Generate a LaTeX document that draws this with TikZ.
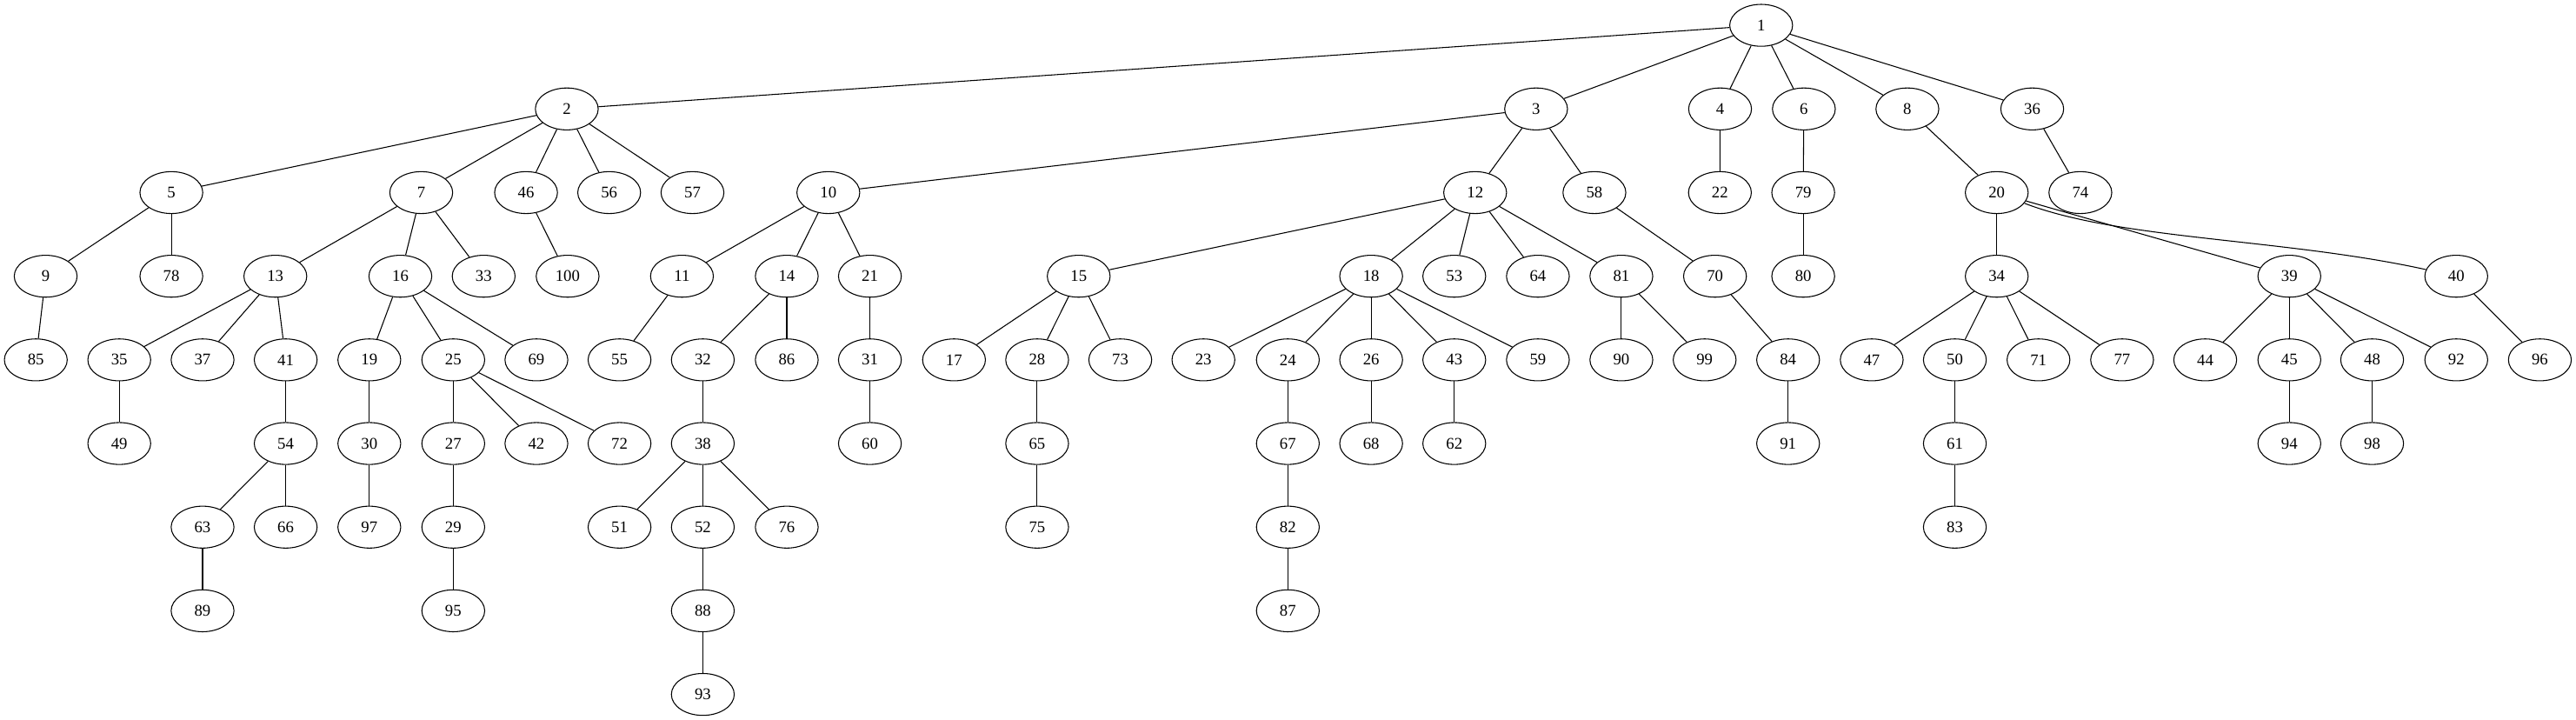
\documentclass[tikz,border=0pt]{standalone}
\usepackage{fontspec}
\setmainfont{Liberation Serif}
\usetikzlibrary{shapes.geometric}
\begin{document}
\begin{tikzpicture}[x=1.4114pt,y=1.4114pt,
  nd/.style={ellipse,draw,line width=0.8pt,minimum width=54pt,minimum height=36pt,inner sep=0pt,font=\fontsize{14}{16}\selectfont},
  ed/.style={line width=0.8pt}]
\useasboundingbox (0,0) rectangle (1568,-438);
% level 0
\node[nd] (n1) at (1072,-15.4) {1};
% level 1
\foreach \n/\x in {2/345,3/935,4/1047,6/1098,8/1161,36/1237}
  \node[nd] (n\n) at (\x,-66.3) {\n};
% level 2
\foreach \n/\x in {5/104.3,7/256.4,46/320.2,56/370.8,57/421.5,10/504.2,12/897.9,58/970.5,22/1046.9,79/1097.6,20/1215.4,74/1266.3}
  \node[nd] (n\n) at (\x,-117.2) {\n};
% level 3
\foreach \n/\x in {9/27.8,78/104.3,13/167.6,16/243.7,33/294.4,100/345.5,11/415.1,14/478.9,21/529.5,15/656.6,18/834.6,53/885.2,64/936.1,81/986.9,70/1043.9,80/1097.6,34/1215.4,39/1393.5,40/1495.1}
  \node[nd] (n\n) at (\x,-168.1) {\n};
% level 4
\foreach \n/\x in {85/21.8,35/72.6,37/123.3,41/173.9,19/224.8,25/275.9,69/326.5,55/377.1,32/427.8,86/478.9,31/529.5,17/580.7,28/631.3,73/681.9,23/732.5,24/783.9,26/834.6,43/885.2,59/936.1,90/986.9,99/1037.6,84/1088.4,47/1139.3,50/1189.9,71/1240.8,77/1291.7,44/1342.3,45/1393.5,48/1443.9,92/1495.1,96/1546.0}
  \node[nd] (n\n) at (\x,-219.0) {\n};
% level 5
\foreach \n/\x in {49/72.6,54/173.9,30/224.8,27/275.9,42/326.5,72/377.1,38/427.8,60/529.5,65/631.3,67/783.9,68/834.6,62/885.2,91/1088.4,61/1189.9,94/1393.5,98/1443.9}
  \node[nd] (n\n) at (\x,-269.9) {\n};
% level 6
\foreach \n/\x in {63/123.3,66/173.9,97/224.8,29/275.9,51/377.1,52/427.8,76/478.9,75/631.3,82/783.9,83/1189.9}
  \node[nd] (n\n) at (\x,-320.8) {\n};
% level 7
\foreach \n/\x in {89/123.3,95/275.9,88/427.8,87/783.9}
  \node[nd] (n\n) at (\x,-371.7) {\n};
% level 8
\node[nd] (n93) at (427.8,-422.6) {93};
% edges
\foreach \a/\b in {1/2,1/3,1/4,1/6,1/8,1/36,
  2/5,2/7,2/46,2/56,2/57,
  3/10,3/12,3/58,
  4/22,6/79,8/20,36/74,
  5/9,5/78,
  7/13,7/16,7/33,
  46/100,
  10/11,10/14,10/21,
  12/15,12/18,12/53,12/64,12/81,
  58/70,79/80,
  20/34,20/39,
  9/85,
  13/35,13/37,13/41,
  16/19,16/25,16/69,
  11/55,14/32,14/86,21/31,
  15/17,15/28,15/73,
  18/23,18/24,18/26,18/43,18/59,
  81/90,81/99,70/84,
  34/47,34/50,34/71,34/77,
  39/44,39/45,39/48,39/92,
  40/96,
  35/49,41/54,19/30,
  25/27,25/42,25/72,
  32/38,31/60,28/65,24/67,26/68,43/62,84/91,50/61,45/94,48/98,
  54/63,54/66,30/97,27/29,
  38/51,38/52,38/76,
  65/75,67/82,61/83,63/89,29/95,52/88,82/87,88/93}
  \draw[ed] (n\a) -- (n\b);
\draw[ed] (n20) .. controls (1290,-146) and (1390,-145) .. (n40);
\end{tikzpicture}
\end{document}
